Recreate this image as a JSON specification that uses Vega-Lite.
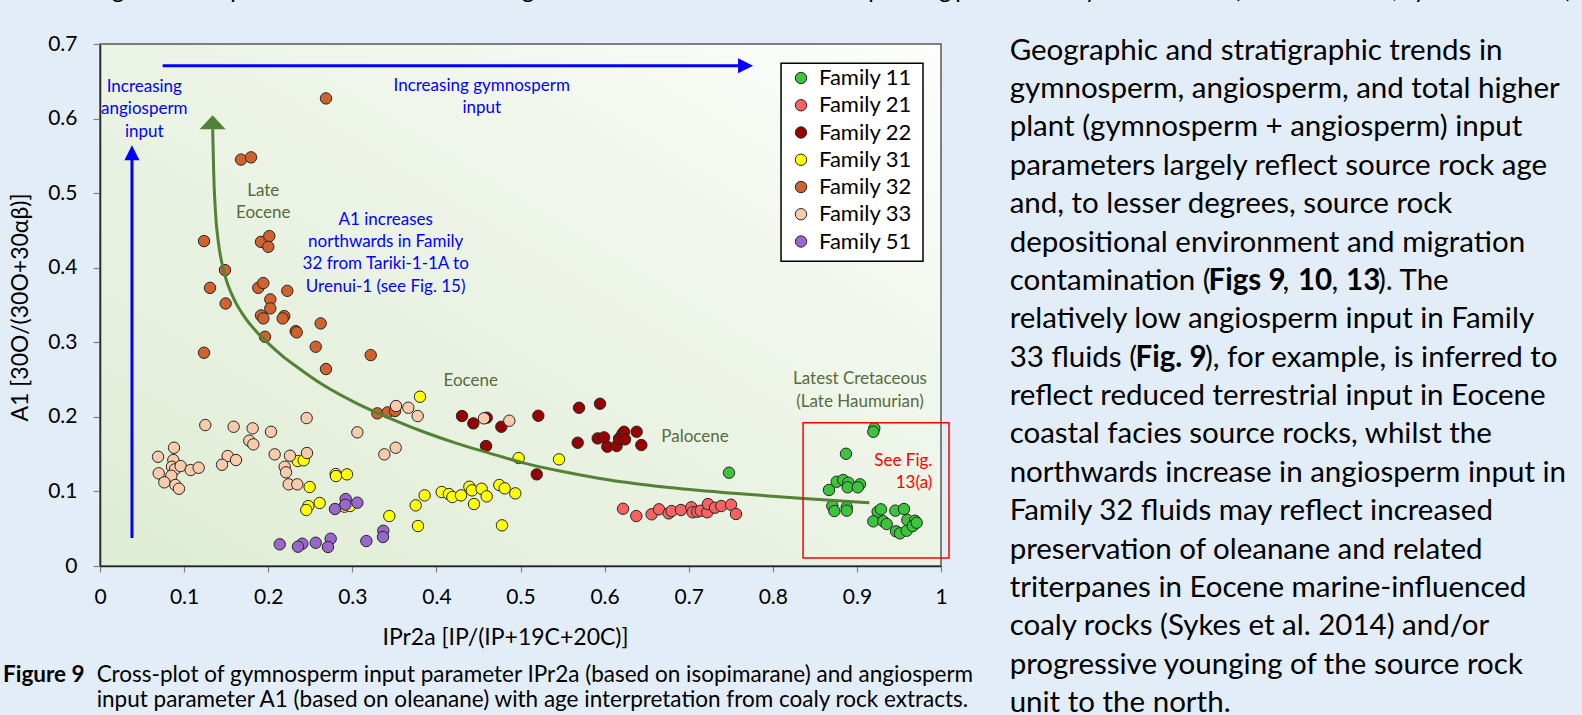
{
"$schema": "https://vega.github.io/schema/vega-lite/v6.json",
"width": 841, "height": 522,
"autosize": {"type": "none"},
"padding": {"left": 100, "top": 44, "right": 641, "bottom": 149},
"background": "#e3edf7",
"config": {"view": {"stroke": null}, "font": "Lato"},
"datasets": {
"points": [
{"family":"Family 11","x":0.7479,"y":0.1251},{"family":"Family 11","x":0.9207,"y":0.1846},{"family":"Family 11","x":0.9195,"y":0.18},{"family":"Family 11","x":0.887,"y":0.1505},{"family":"Family 11","x":0.8668,"y":0.1019},{"family":"Family 11","x":0.876,"y":0.113},{"family":"Family 11","x":0.8838,"y":0.1153},{"family":"Family 11","x":0.8898,"y":0.1117},{"family":"Family 11","x":0.889,"y":0.1055},{"family":"Family 11","x":0.9037,"y":0.1095},{"family":"Family 11","x":0.901,"y":0.1055},{"family":"Family 11","x":0.8708,"y":0.0804},{"family":"Family 11","x":0.8732,"y":0.0737},{"family":"Family 11","x":0.8879,"y":0.0787},{"family":"Family 11","x":0.8879,"y":0.0742},{"family":"Family 11","x":0.9247,"y":0.0728},{"family":"Family 11","x":0.9286,"y":0.076},{"family":"Family 11","x":0.9457,"y":0.0742},{"family":"Family 11","x":0.956,"y":0.0764},{"family":"Family 11","x":0.9195,"y":0.0599},{"family":"Family 11","x":0.9314,"y":0.0599},{"family":"Family 11","x":0.9354,"y":0.0563},{"family":"Family 11","x":0.9465,"y":0.0465},{"family":"Family 11","x":0.9512,"y":0.0438},{"family":"Family 11","x":0.9592,"y":0.0473},{"family":"Family 11","x":0.96,"y":0.0617},{"family":"Family 11","x":0.9691,"y":0.0607},{"family":"Family 11","x":0.9664,"y":0.0536},{"family":"Family 11","x":0.9711,"y":0.058},
{"family":"Family 21","x":0.6219,"y":0.0768},{"family":"Family 21","x":0.6377,"y":0.067},{"family":"Family 21","x":0.6559,"y":0.0693},{"family":"Family 21","x":0.6647,"y":0.076},{"family":"Family 21","x":0.6762,"y":0.0706},{"family":"Family 21","x":0.6797,"y":0.0737},{"family":"Family 21","x":0.6908,"y":0.0751},{"family":"Family 21","x":0.7031,"y":0.0787},{"family":"Family 21","x":0.7047,"y":0.072},{"family":"Family 21","x":0.7102,"y":0.0728},{"family":"Family 21","x":0.7142,"y":0.0741},{"family":"Family 21","x":0.7221,"y":0.072},{"family":"Family 21","x":0.7229,"y":0.0831},{"family":"Family 21","x":0.7313,"y":0.0782},{"family":"Family 21","x":0.7388,"y":0.0804},{"family":"Family 21","x":0.7503,"y":0.0822},{"family":"Family 21","x":0.7562,"y":0.0697},
{"family":"Family 22","x":0.4304,"y":0.2011},{"family":"Family 22","x":0.4439,"y":0.1913},{"family":"Family 22","x":0.4598,"y":0.1988},{"family":"Family 22","x":0.4772,"y":0.1867},{"family":"Family 22","x":0.459,"y":0.1609},{"family":"Family 22","x":0.5212,"y":0.2015},{"family":"Family 22","x":0.5696,"y":0.2122},{"family":"Family 22","x":0.5945,"y":0.2176},{"family":"Family 22","x":0.568,"y":0.1653},{"family":"Family 22","x":0.5193,"y":0.1229},{"family":"Family 22","x":0.5918,"y":0.1711},{"family":"Family 22","x":0.5993,"y":0.1725},{"family":"Family 22","x":0.6032,"y":0.16},{"family":"Family 22","x":0.6143,"y":0.1609},{"family":"Family 22","x":0.6171,"y":0.1707},{"family":"Family 22","x":0.6211,"y":0.1769},{"family":"Family 22","x":0.6231,"y":0.18},{"family":"Family 22","x":0.6243,"y":0.1698},{"family":"Family 22","x":0.6381,"y":0.18},{"family":"Family 22","x":0.6437,"y":0.1622},
{"family":"Family 31","x":0.3805,"y":0.227},{"family":"Family 31","x":0.2351,"y":0.1408},{"family":"Family 31","x":0.2422,"y":0.1417},{"family":"Family 31","x":0.2803,"y":0.1233},{"family":"Family 31","x":0.2806,"y":0.1206},{"family":"Family 31","x":0.2937,"y":0.1229},{"family":"Family 31","x":0.2493,"y":0.1059},{"family":"Family 31","x":0.2477,"y":0.0804},{"family":"Family 31","x":0.2453,"y":0.0751},{"family":"Family 31","x":0.2612,"y":0.0845},{"family":"Family 31","x":0.2905,"y":0.0795},{"family":"Family 31","x":0.2973,"y":0.0804},{"family":"Family 31","x":0.344,"y":0.067},{"family":"Family 31","x":0.3754,"y":0.0813},{"family":"Family 31","x":0.386,"y":0.0947},{"family":"Family 31","x":0.3781,"y":0.0536},{"family":"Family 31","x":0.4063,"y":0.0992},{"family":"Family 31","x":0.4148,"y":0.0965},{"family":"Family 31","x":0.419,"y":0.0925},{"family":"Family 31","x":0.4293,"y":0.0947},{"family":"Family 31","x":0.4392,"y":0.1063},{"family":"Family 31","x":0.4423,"y":0.1014},{"family":"Family 31","x":0.4447,"y":0.0831},{"family":"Family 31","x":0.4538,"y":0.1036},{"family":"Family 31","x":0.4598,"y":0.0934},{"family":"Family 31","x":0.4748,"y":0.1086},{"family":"Family 31","x":0.4812,"y":0.1041},{"family":"Family 31","x":0.4938,"y":0.0974},{"family":"Family 31","x":0.478,"y":0.0545},{"family":"Family 31","x":0.4978,"y":0.1448},{"family":"Family 31","x":0.5458,"y":0.143},
{"family":"Family 32","x":0.2687,"y":0.627},{"family":"Family 32","x":0.1677,"y":0.545},{"family":"Family 32","x":0.1796,"y":0.548},{"family":"Family 32","x":0.1237,"y":0.4357},{"family":"Family 32","x":0.1914,"y":0.4347},{"family":"Family 32","x":0.2013,"y":0.4424},{"family":"Family 32","x":0.2001,"y":0.428},{"family":"Family 32","x":0.1486,"y":0.3968},{"family":"Family 32","x":0.1308,"y":0.373},{"family":"Family 32","x":0.1882,"y":0.373},{"family":"Family 32","x":0.1942,"y":0.3794},{"family":"Family 32","x":0.2227,"y":0.369},{"family":"Family 32","x":0.1494,"y":0.352},{"family":"Family 32","x":0.2025,"y":0.3575},{"family":"Family 32","x":0.2025,"y":0.3454},{"family":"Family 32","x":0.1914,"y":0.336},{"family":"Family 32","x":0.1942,"y":0.332},{"family":"Family 32","x":0.2191,"y":0.3351},{"family":"Family 32","x":0.2172,"y":0.332},{"family":"Family 32","x":0.2624,"y":0.3253},{"family":"Family 32","x":0.2327,"y":0.315},{"family":"Family 32","x":0.2339,"y":0.3133},{"family":"Family 32","x":0.1962,"y":0.3074},{"family":"Family 32","x":0.1237,"y":0.286},{"family":"Family 32","x":0.2565,"y":0.294},{"family":"Family 32","x":0.3219,"y":0.2828},{"family":"Family 32","x":0.2687,"y":0.2641},{"family":"Family 32","x":0.3298,"y":0.2047},{"family":"Family 32","x":0.342,"y":0.206},{"family":"Family 32","x":0.3508,"y":0.2078},
{"family":"Family 33","x":0.352,"y":0.2145},{"family":"Family 33","x":0.3666,"y":0.2122},{"family":"Family 33","x":0.3777,"y":0.2011},{"family":"Family 33","x":0.2457,"y":0.1984},{"family":"Family 33","x":0.1252,"y":0.189},{"family":"Family 33","x":0.1589,"y":0.1867},{"family":"Family 33","x":0.1815,"y":0.1846},{"family":"Family 33","x":0.2033,"y":0.18},{"family":"Family 33","x":0.306,"y":0.1792},{"family":"Family 33","x":0.1775,"y":0.168},{"family":"Family 33","x":0.1823,"y":0.1631},{"family":"Family 33","x":0.088,"y":0.1586},{"family":"Family 33","x":0.3516,"y":0.1586},{"family":"Family 33","x":0.3381,"y":0.1497},{"family":"Family 33","x":0.2461,"y":0.1515},{"family":"Family 33","x":0.069,"y":0.1465},{"family":"Family 33","x":0.0872,"y":0.1421},{"family":"Family 33","x":0.1518,"y":0.1475},{"family":"Family 33","x":0.1617,"y":0.1421},{"family":"Family 33","x":0.2077,"y":0.1497},{"family":"Family 33","x":0.2259,"y":0.1479},{"family":"Family 33","x":0.0856,"y":0.1331},{"family":"Family 33","x":0.0892,"y":0.1296},{"family":"Family 33","x":0.0959,"y":0.134},{"family":"Family 33","x":0.1078,"y":0.1287},{"family":"Family 33","x":0.1173,"y":0.1318},{"family":"Family 33","x":0.1451,"y":0.1358},{"family":"Family 33","x":0.2196,"y":0.1331},{"family":"Family 33","x":0.2212,"y":0.1256},{"family":"Family 33","x":0.0698,"y":0.1243},{"family":"Family 33","x":0.0848,"y":0.121},{"family":"Family 33","x":0.0765,"y":0.1122},{"family":"Family 33","x":0.0896,"y":0.1086},{"family":"Family 33","x":0.0939,"y":0.1036},{"family":"Family 33","x":0.2244,"y":0.1095},{"family":"Family 33","x":0.2346,"y":0.1095},{"family":"Family 33","x":0.4566,"y":0.198},{"family":"Family 33","x":0.4867,"y":0.1948},
{"family":"Family 51","x":0.2921,"y":0.0898},{"family":"Family 51","x":0.2917,"y":0.0822},{"family":"Family 51","x":0.306,"y":0.0849},{"family":"Family 51","x":0.2794,"y":0.0764},{"family":"Family 51","x":0.3369,"y":0.0473},{"family":"Family 51","x":0.3365,"y":0.0389},{"family":"Family 51","x":0.3167,"y":0.0335},{"family":"Family 51","x":0.2743,"y":0.0366},{"family":"Family 51","x":0.2711,"y":0.0255},{"family":"Family 51","x":0.2565,"y":0.0312},{"family":"Family 51","x":0.2406,"y":0.0299},{"family":"Family 51","x":0.2354,"y":0.0259},{"family":"Family 51","x":0.2137,"y":0.0291}
],
"curve": [
{"x":0.134,"y":0.5858},{"x":0.1351,"y":0.5308},{"x":0.1373,"y":0.4745},{"x":0.1409,"y":0.433},{"x":0.1457,"y":0.4021},{"x":0.1522,"y":0.3767},{"x":0.1605,"y":0.3552},{"x":0.1712,"y":0.3351},{"x":0.1843,"y":0.3164},{"x":0.1998,"y":0.2989},{"x":0.2164,"y":0.2822},{"x":0.2339,"y":0.2672},{"x":0.2655,"y":0.2426},{"x":0.3052,"y":0.2181},{"x":0.3448,"y":0.198},{"x":0.3844,"y":0.18},{"x":0.4241,"y":0.1645},{"x":0.4637,"y":0.1511},{"x":0.5033,"y":0.1383},{"x":0.547,"y":0.1273},{"x":0.5945,"y":0.1173},{"x":0.6738,"y":0.1055},{"x":0.753,"y":0.0975},{"x":0.8323,"y":0.0908},{"x":0.9148,"y":0.0849}
],
"arrows": [
{"x":0.038,"y":0.0375,"x2":0.038,"y2":0.545},
{"x":0.0745,"y":0.6707,"x2":0.7586,"y2":0.6707}
],
"blueText": [
{"x":0.0527,"y":0.6425,"text":"Increasing"},{"x":0.0527,"y":0.6126,"text":"angiosperm"},{"x":0.0527,"y":0.5822,"text":"input"},
{"x":0.4539,"y":0.6438,"text":"Increasing gymnosperm"},{"x":0.4539,"y":0.6143,"text":"input"},
{"x":0.3397,"y":0.4638,"text":"A1 increases"},{"x":0.3397,"y":0.4347,"text":"northwards  in Family"},{"x":0.3397,"y":0.4044,"text":"32 from Tariki-1-1A to"},{"x":0.3397,"y":0.3744,"text":"Urenui-1 (see Fig. 15)"}
],
"oliveText": [
{"x":0.1941,"y":0.5031,"text":"Late"},{"x":0.1941,"y":0.4736,"text":"Eocene"},
{"x":0.4408,"y":0.2484,"text":"Eocene"},{"x":0.7075,"y":0.1725,"text":"Palocene"},
{"x":0.9037,"y":0.2507,"text":"Latest Cretaceous"},{"x":0.9037,"y":0.2202,"text":"(Late Haumurian)"}
],
"redText": [
{"x":0.9897,"y":0.1412,"text":"See Fig."},{"x":0.9897,"y":0.1117,"text":"13(a)"}
],
"para": [
{"x":1.0816,"y":0.6912,"text":"Geographic and stratigraphic trends in"},
{"x":1.0816,"y":0.6397,"text":"gymnosperm, angiosperm, and total higher"},
{"x":1.0816,"y":0.5882,"text":"plant (gymnosperm + angiosperm) input"},
{"x":1.0816,"y":0.5367,"text":"parameters largely reflect source rock age"},
{"x":1.0816,"y":0.4853,"text":"and, to lesser degrees, source rock"},
{"x":1.0816,"y":0.4338,"text":"depositional environment and migration"},
{"x":1.0816,"y":0.3823,"text":"contamination ("},
{"x":1.4061,"y":0.3823,"text":", "},
{"x":1.4643,"y":0.3823,"text":", "},
{"x":1.5196,"y":0.3823,"text":"). The"},
{"x":1.0816,"y":0.3308,"text":"relatively low angiosperm input in Family"},
{"x":1.0816,"y":0.2794,"text":"33 fluids ("},
{"x":1.3139,"y":0.2794,"text":"), for example, is inferred to"},
{"x":1.0816,"y":0.2279,"text":"reflect reduced terrestrial input in Eocene"},
{"x":1.0816,"y":0.1764,"text":"coastal facies source rocks, whilst the"},
{"x":1.0816,"y":0.1249,"text":"northwards increase in angiosperm input in"},
{"x":1.0816,"y":0.0735,"text":"Family 32 fluids may reflect increased"},
{"x":1.0816,"y":0.022,"text":"preservation of oleanane and related"},
{"x":1.0816,"y":-0.0295,"text":"triterpanes in Eocene marine-influenced"},
{"x":1.0816,"y":-0.081,"text":"coaly rocks (Sykes et al. 2014) and/or"},
{"x":1.0816,"y":-0.1324,"text":"progressive younging of the source rock"},
{"x":1.0816,"y":-0.1839,"text":"unit to the north."}
],
"paraBold": [
{"x":1.3181,"y":0.3823,"text":"Figs 9"},
{"x":1.4245,"y":0.3823,"text":"10"},
{"x":1.4816,"y":0.3823,"text":"13"},
{"x":1.2313,"y":0.2794,"text":"Fig. 9"}
],
"caption": [
{"x":-0.004,"y":-0.1461,"text":"Cross-plot of gymnosperm input parameter IPr2a (based on isopimarane) and angiosperm"},
{"x":-0.004,"y":-0.1796,"text":"input parameter A1 (based on oleanane) with age interpretation from coaly rock extracts."}
],
"captionBold": [
{"x":-0.1153,"y":-0.1461,"text":"Figure 9"}
],
"topCut": [
{"x":0.0214,"y":0.7614,"text":"g"},{"x":0.1629,"y":0.7614,"text":"p"},{"x":0.5089,"y":0.7614,"text":"g"},{"x":0.9215,"y":0.7614,"text":"p"},{"x":1.0048,"y":0.7614,"text":"g"},{"x":1.025,"y":0.7614,"text":"p"},{"x":1.1784,"y":0.7614,"text":"y"},{"x":1.352,"y":0.7614,"text":"("},{"x":1.5398,"y":0.7614,"text":","},{"x":1.5696,"y":0.7614,"text":"y"},{"x":1.7467,"y":0.7614,"text":")"}
]
},
"encoding": {
"x": {"field": "x", "type": "quantitative",
 "scale": {"domain": [0, 1], "nice": false, "zero": false},
 "axis": {"values": [0,0.1,0.2,0.3,0.4,0.5,0.6,0.7,0.8,0.9,1], "format": "~g", "title": "IPr2a [IP/(IP+19C+20C)]", "grid": false,
  "domainColor": "#262626", "domainWidth": 1.5, "tickColor": "#808080", "tickWidth": 1.2, "tickSize": 6,
  "labelFont": "Lato", "labelFontSize": 21, "labelColor": "#000000", "labelPadding": 14, "labelFlush": false, "labelOverlap": false,
  "titleFont": "Lato", "titleFontSize": 23, "titleFontWeight": "normal", "titleColor": "#000000",
  "titleX": 405, "titleY": 71, "titleAlign": "center", "titleBaseline": "middle", "zindex": 1}},
"y": {"field": "y", "type": "quantitative",
 "scale": {"domain": [0, 0.7], "nice": false, "zero": false},
 "axis": {"values": [0,0.1,0.2,0.3,0.4,0.5,0.6,0.7], "format": "~g", "title": "A1 [30O/(30O+30αβ)]", "grid": false,
  "domainColor": "#262626", "domainWidth": 1.5, "tickColor": "#808080", "tickWidth": 1.2, "tickSize": 7,
  "labelFont": "Lato", "labelFontSize": 21, "labelColor": "#000000", "labelPadding": 16, "labelFlush": false, "labelOverlap": false,
  "titleFont": "Lato", "titleFontSize": 23, "titleFontWeight": "normal", "titleColor": "#000000",
  "titleX": -80, "titleY": 263, "titleAngle": 270, "titleAlign": "center", "titleBaseline": "middle", "zindex": 1}}
},
"layer": [
{"data": {"values": [{"x": 0, "x2": 1, "y": 0, "y2": 0.7}]},
 "mark": {"type": "rect", "fill": {"gradient": "linear", "x1": 0, "y1": 1, "x2": 1, "y2": 0, "stops": [{"offset": 0, "color": "#dfedd4"}, {"offset": 0.55, "color": "#edf4e7"}, {"offset": 1, "color": "#fdfefc"}]}, "stroke": "#595959", "strokeWidth": 1.5},
 "encoding": {"x2": {"field": "x2"}, "y2": {"field": "y2"}}},
{"data": {"name": "points"},
 "mark": {"type": "point", "shape": "circle", "filled": true, "opacity": 1, "size": 130, "stroke": "#262626", "strokeWidth": 1},
 "encoding": {"color": {"field": "family", "type": "nominal",
   "scale": {"domain": ["Family 11","Family 21","Family 22","Family 31","Family 32","Family 33","Family 51"], "range": ["#3cc43c","#f86262","#990000","#ffff00","#d0622e","#f8cbad","#9966cc"]},
   "legend": {"orient": "none", "legendX": 690, "legendY": 23, "title": null, "direction": "vertical", "symbolType": "circle", "symbolSize": 130, "symbolStrokeColor": "#262626", "symbolStrokeWidth": 1, "symbolOpacity": 1, "labelFont": "Lato", "labelFontSize": 22, "labelColor": "#000000", "labelOffset": 7, "rowPadding": 5.25, "padding": 0}}}},
{"data": {"name": "curve"},
 "mark": {"type": "line", "interpolate": "monotone", "color": "#538135", "strokeWidth": 3},
 "encoding": {}},
{"data": {"values": [{"x": 0.1339, "y": 0.5952}]},
 "mark": {"type": "point", "shape": "M0,-0.54L1,0.54L-1,0.54Z", "size": 676, "filled": true, "opacity": 1, "color": "#538135", "strokeWidth": 0},
 "encoding": {}},
{"data": {"name": "arrows"},
 "mark": {"type": "rule", "color": "#0000ff", "strokeWidth": 3},
 "encoding": {"x2": {"field": "x2"}, "y2": {"field": "y2"}}},
{"data": {"values": [{"x": 0.038, "y": 0.5543}]},
 "mark": {"type": "point", "shape": "M0,-1L1,1L-1,1Z", "size": 225, "filled": true, "opacity": 1, "color": "#0000ff", "strokeWidth": 0},
 "encoding": {}},
{"data": {"values": [{"x": 0.7676, "y": 0.6707}]},
 "mark": {"type": "point", "shape": "M1,0L-1,-1L-1,1Z", "size": 225, "filled": true, "opacity": 1, "color": "#0000ff", "strokeWidth": 0},
 "encoding": {}},
{"data": {"name": "blueText"},
 "mark": {"type": "text", "align": "center", "baseline": "middle", "font": "Lato", "fontSize": 17, "color": "#0000ff"},
 "encoding": {"text": {"field": "text"}}},
{"data": {"name": "oliveText"},
 "mark": {"type": "text", "align": "center", "baseline": "middle", "font": "Lato", "fontSize": 17, "color": "#566b3b"},
 "encoding": {"text": {"field": "text"}}},
{"data": {"name": "redText"},
 "mark": {"type": "text", "align": "right", "baseline": "middle", "font": "Lato", "fontSize": 17, "color": "#ff0000"},
 "encoding": {"text": {"field": "text"}}},
{"data": {"values": [{"x": 0.836, "x2": 1.0095, "y": 0.192, "y2": 0.0107}]},
 "mark": {"type": "rect", "fill": null, "fillOpacity": 0, "stroke": "#ff0000", "strokeWidth": 1.5},
 "encoding": {"x2": {"field": "x2"}, "y2": {"field": "y2"}}},
{"data": {"values": [{"x": 0.8098, "x2": 0.9786, "y": 0.6743, "y2": 0.4088}]},
 "mark": {"type": "rect", "fill": "#ffffff", "stroke": "#000000", "strokeWidth": 1.5},
 "encoding": {"x2": {"field": "x2"}, "y2": {"field": "y2"}}},
{"data": {"name": "para"},
 "mark": {"type": "text", "align": "left", "baseline": "middle", "font": "Lato", "fontSize": 29.5, "color": "#000000"},
 "encoding": {"text": {"field": "text"}}},
{"data": {"name": "paraBold"},
 "mark": {"type": "text", "align": "left", "baseline": "middle", "font": "Lato", "fontSize": 29.5, "fontWeight": "bold", "color": "#000000"},
 "encoding": {"text": {"field": "text"}}},
{"data": {"name": "caption"},
 "mark": {"type": "text", "align": "left", "baseline": "middle", "font": "Lato", "fontSize": 22.5, "color": "#000000"},
 "encoding": {"text": {"field": "text"}}},
{"data": {"name": "captionBold"},
 "mark": {"type": "text", "align": "left", "baseline": "middle", "font": "Lato", "fontSize": 22.5, "fontWeight": "bold", "color": "#000000"},
 "encoding": {"text": {"field": "text"}}},
{"data": {"name": "topCut"},
 "mark": {"type": "text", "align": "center", "baseline": "alphabetic", "font": "Lato", "fontSize": 24, "color": "#000000"},
 "encoding": {"text": {"field": "text"}}}
]
}
